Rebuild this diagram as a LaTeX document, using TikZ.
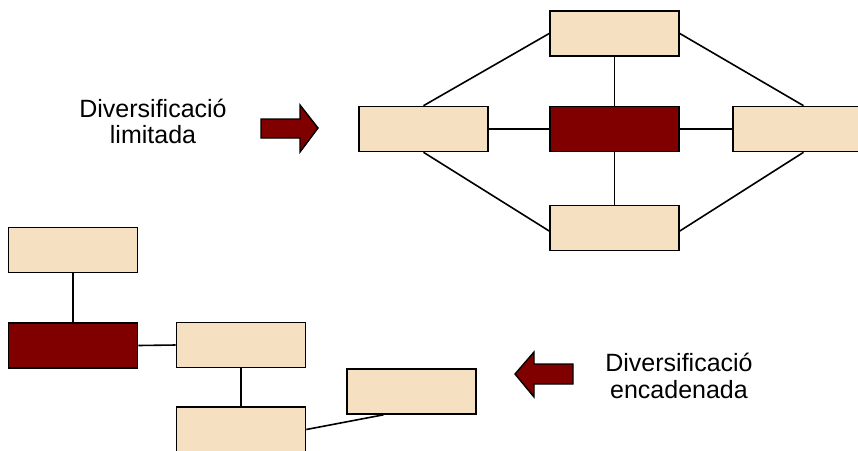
\documentclass[tikz,border=0pt]{standalone}
\usepackage{fontspec}
\setmainfont{Liberation Sans}
\definecolor{cream}{HTML}{F5E1C2}
\definecolor{maroon}{HTML}{800000}
\begin{document}
\begin{tikzpicture}[x=1pt,y=-1pt,
  box/.style={draw=black,line width=1.6pt,fill=cream,minimum width=129pt,minimum height=45pt,inner sep=0pt},
  core/.style={box,fill=maroon},
  link/.style={draw=black,line width=1.6pt},
  bigarrow/.style={draw=black,line width=1.4pt,fill=maroon,line join=miter},
  caption/.style={align=center,anchor=base,font=\fontsize{25}{26.5}\selectfont}]
\useasboundingbox (0,0) rectangle (858,450);

% limited diversification: a hub with four partners
\node[box]  (top)   at (614.5,33.5)  {};
\node[box]  (left)  at (423.5,129)   {};
\node[core] (hub)   at (614.5,129)   {};
\node[box]  (right) at (797.5,129)   {};
\node[box]  (bot)   at (614.5,228)   {};
\draw[link] (left.east) -- (hub.west);
\draw[link] (hub.east) -- (right.west);
\draw[link] (top.south) -- (hub.north);
\draw[link] (hub.south) -- (bot.north);
\draw[link] (left.north) -- (top.west);
\draw[link] (top.east) -- ([xshift=6pt]right.north);
\draw[link] (left.south) -- ([yshift=-3pt]bot.west);
\draw[link] ([yshift=-3pt]bot.east) -- ([xshift=6pt]right.south);

% chained diversification
\node[box]  (ca) at (73,250)     {};
\node[core] (cb) at (73,345.5)   {};
\node[box]  (cc) at (241,345)    {};
\node[box]  (cd) at (241,429.5)  {};
\node[box]  (ce) at (411.5,391.5){};
\draw[link] (ca.south) -- (cb.north);
\draw[link] (cb.east) -- (cc.west);
\draw[link] (cc.south) -- (cd.north);
\draw[link] (cd.east) -- ([xshift=-28pt]ce.south);

% block arrows
\draw[bigarrow] (261,119) -- (300,119) -- (300,105) -- (318,128)
  -- (300,152) -- (300,138) -- (261,138) -- cycle;
\draw[bigarrow] (573,364) -- (534,364) -- (534,352) -- (515,374)
  -- (534,397) -- (534,384) -- (573,384) -- cycle;

% captions (anchored on the baseline of the second line)
\node[caption] (t1) at (153,143.5) {Diversificació\\limitada};
\node[caption] (t2) at (679,398) {Diversificació\\encadenada};
\end{tikzpicture}
\end{document}
